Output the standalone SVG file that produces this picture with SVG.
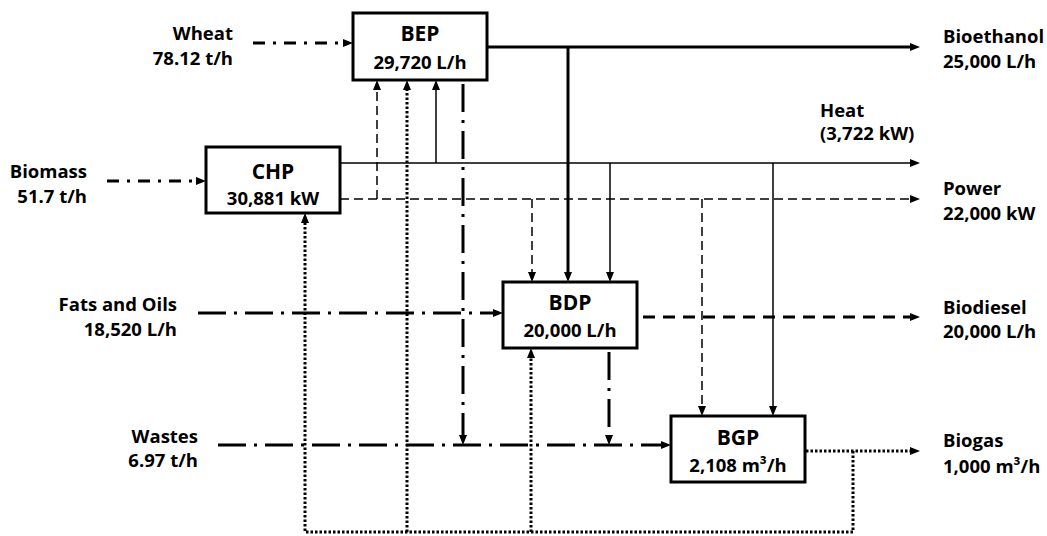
<svg xmlns="http://www.w3.org/2000/svg" width="1047" height="536" viewBox="0 0 1047 536">
<defs>
<marker id="ah" viewBox="0 0 10 8" markerWidth="10" markerHeight="8" refX="5" refY="4" orient="auto" markerUnits="userSpaceOnUse">
<path d="M0,0 L10,4 L0,8 z" fill="#000"/>
</marker>
</defs>
<style>
text{font-family:"Open Sans","Liberation Sans",sans-serif;font-weight:700;font-size:18.5px;fill:#000}
.t{font-size:21px}
.r{text-anchor:end}
.c{text-anchor:middle}
.box{fill:#fff;stroke:#000;stroke-width:3}
.cn path{fill:none;stroke:#000}
.ddS{stroke-width:3;stroke-dasharray:12 8 3 8}
.ddL{stroke-width:3;stroke-dasharray:28 8 3 8}
.thick{stroke-width:3}
.thin{stroke-width:1.5}
.dsh{stroke-width:1.5;stroke-dasharray:9 5}
.dshT{stroke-width:3;stroke-dasharray:12 8}
.dot{stroke-width:3;stroke-dasharray:2.5 2}
.arr{marker-end:url(#ah)}
</style>
<rect width="1047" height="536" fill="#fff"/>
<g class="cn" id="connectors">
<path class="ddS arr" d="M253,43 H348"/>
<path class="ddS arr" d="M107,181 H201"/>
<path class="thick arr" d="M487,47 H915"/>
<path class="thick arr" d="M568,47 V277"/>
<path class="thin arr" d="M340,163 H915"/>
<path class="thin arr" d="M436,163 V85"/>
<path class="thin arr" d="M610,163 V277"/>
<path class="thin arr" d="M773,163 V411"/>
<path class="dsh arr" d="M340,199 H915"/>
<path class="dsh arr" d="M377,199 V85"/>
<path class="dsh arr" d="M532,199 V277"/>
<path class="dsh arr" d="M702,199 V411"/>
<path class="ddL arr" d="M198,313 H498"/>
<path class="ddL arr" d="M218,445 H666"/>
<path class="ddL arr" d="M463,84 V440"/>
<path class="ddL arr" d="M609,352 V440"/>
<path class="dshT arr" d="M643,317 H915"/>
<path class="dot arr" d="M806,451 H915"/>
<path class="dot arr" d="M853,451 V532 H305 V218"/>
<path class="dot arr" d="M407,532 V85"/>
<path class="dot arr" d="M531,532 V353"/>
</g>
<g id="BEP">
<rect class="box" x="353" y="13" width="134" height="67"/>
<text class="t c" x="420" y="41">BEP</text>
<text class="c" x="420" y="69">29,720 L/h</text>
</g>
<g id="CHP">
<rect class="box" x="206" y="147" width="134" height="66"/>
<text class="t c" x="273" y="179">CHP</text>
<text class="c" x="273" y="205">30,881 kW</text>
</g>
<g id="BDP">
<rect class="box" x="503" y="282" width="134" height="66"/>
<text class="t c" x="570" y="310">BDP</text>
<text class="c" x="570" y="337">20,000 L/h</text>
</g>
<g id="BGP">
<rect class="box" x="671" y="416" width="134" height="66"/>
<text class="t c" x="738" y="445">BGP</text>
<text class="c" x="738" y="472">2,108 m³/h</text>
</g>
<g id="Wheat">
<text class="r" x="233" y="40">Wheat</text>
<text class="r" x="233" y="65">78.12 t/h</text>
</g>
<g id="Biomass">
<text class="r" x="87" y="178">Biomass</text>
<text class="r" x="87" y="203">51.7 t/h</text>
</g>
<g id="FatsOils">
<text class="r" x="177" y="311">Fats and Oils</text>
<text class="r" x="177" y="336">18,520 L/h</text>
</g>
<g id="Wastes">
<text class="r" x="198" y="443">Wastes</text>
<text class="r" x="198" y="467">6.97 t/h</text>
</g>
<g id="Bioethanol">
<text x="943" y="43">Bioethanol</text>
<text x="943" y="68">25,000 L/h</text>
</g>
<g id="Heat">
<text x="820" y="117">Heat</text>
<text x="820" y="140">(3,722 kW)</text>
</g>
<g id="Power">
<text x="943" y="195">Power</text>
<text x="943" y="220">22,000 kW</text>
</g>
<g id="Biodiesel">
<text x="943" y="314">Biodiesel</text>
<text x="943" y="338">20,000 L/h</text>
</g>
<g id="Biogas">
<text x="943" y="447">Biogas</text>
<text x="943" y="473">1,000 m³/h</text>
</g>
</svg>
